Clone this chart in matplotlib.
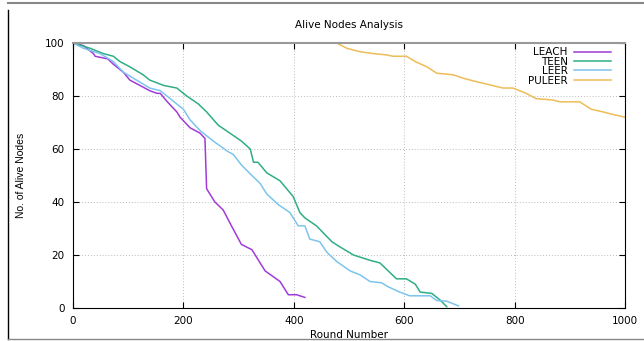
import matplotlib.pyplot as plt
import matplotlib.lines as mlines

leach_r = [0, 19, 37, 40, 63, 73, 91, 103, 121, 139, 152, 158, 170, 188, 194, 212, 230, 239,
           242, 257, 272, 287, 305, 324, 348, 375, 390, 405, 420]
leach_v = [100, 99, 96, 95, 94, 92, 89, 86, 84, 82, 81, 81, 78, 74, 72, 68, 66, 64,
           45, 40, 37, 31, 24, 22, 14, 10, 5, 5, 4]

teen_r = [0, 16, 31, 55, 73, 85, 103, 127, 139, 164, 188, 206, 227, 242, 263, 284,
          305, 321, 327, 335, 351, 375, 399, 411, 420, 441, 469, 484, 508, 538, 556,
          586, 604, 620, 629, 650, 665, 677]
teen_v = [100, 99, 98, 96, 95, 93, 91, 88, 86, 84, 83, 80, 77, 74, 69, 66,
          63, 60, 55, 55, 51, 48, 42, 36, 34, 31, 25, 23, 20, 18, 17,
          11, 11, 9, 6, 5.5, 3, 0.5]

leer_r = [0, 19, 49, 73, 91, 115, 139, 158, 176, 200, 212, 230, 254, 281, 290, 305,
          324, 339, 351, 372, 393, 408, 420, 429, 447, 460, 478, 502, 520, 538,
          559, 571, 592, 610, 647, 659, 677, 698]
leer_v = [100, 98, 96, 93, 89, 86, 83, 82, 79, 75, 71, 67, 63, 59, 58, 54,
          50, 47, 43, 39, 36, 31, 31, 26, 25, 21, 17.5, 14, 12.5, 10,
          9.5, 8, 6, 4.6, 4.6, 2.8, 2.6, 0.8]

puleer_r = [0, 478, 496, 520, 544, 568, 580, 604, 620, 641, 659, 689, 707, 731, 755,
            779, 797, 821, 839, 869, 882, 918, 939, 960, 979, 1000]
puleer_v = [100, 100, 98, 96.7, 96, 95.5, 95, 95, 93, 91, 88.6, 88, 86.7, 85.4, 84.2,
            83, 83, 81, 79, 78.5, 77.8, 77.8, 75, 74, 73, 72]

series = [("LEACH", leach_r, leach_v, "#a13bd9"),
          ("TEEN", teen_r, teen_v, "#2fae86"),
          ("LEER", leer_r, leer_v, "#7cc4ee"),
          ("PULEER", puleer_r, puleer_v, "#eebc58")]

fig = plt.figure(figsize=(6.44, 3.41), dpi=100)
ax = fig.add_axes([0.1134, 0.0968, 0.8571, 0.7771])

for name, r, v, c in series:
    ax.plot(r, v, color=c, lw=1.1, label=name)

ax.set_xlim(0, 1000)
ax.set_ylim(0, 100)
ax.set_xticks(range(0, 1001, 200))
ax.set_yticks(range(0, 101, 20))
ax.tick_params(direction="in", top=True, right=True, length=4, width=0.8,
               labelsize=7.5, pad=6)
ax.grid(True, linestyle=(0, (1, 2)), color="#bbbbbb", lw=0.7)
ax.spines["top"].set_color("#999999")
ax.spines["top"].set_linewidth(1.5)

ax.set_title("Alive Nodes Analysis", fontsize=7.5, pad=10.5)
ax.set_xlabel("Round Number", fontsize=7.5, labelpad=3)
ax.set_ylabel("No. of Alive Nodes", fontsize=7.5, labelpad=14,
              family="Liberation Sans")

leg = ax.legend(loc="upper right", frameon=False, markerfirst=False, fontsize=7.5,
                handlelength=3.6, handletextpad=0.6, labelspacing=-0.05,
                borderaxespad=0.0, bbox_to_anchor=(0.983, 1.0))
for col in leg._legend_handle_box.get_children():
    col.align = "right"

# рамка скриншота
fig.add_artist(mlines.Line2D([8 / 644, 1], [1 - 3 / 341] * 2, color="#888888", lw=1.5))
fig.add_artist(mlines.Line2D([8 / 644] * 2, [2 / 341, 1 - 10 / 341], color="black", lw=1))
fig.add_artist(mlines.Line2D([8 / 644, 1], [2 / 341] * 2, color="#888888", lw=1))

fig.savefig("out.png", dpi=100)
